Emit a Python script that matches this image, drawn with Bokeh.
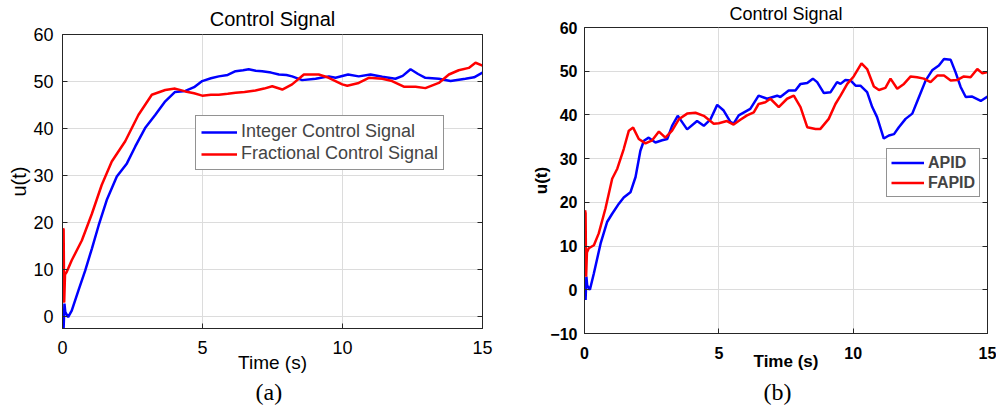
from bokeh.plotting import figure
from bokeh.models import Range1d, LinearAxis, Legend, LegendItem, FixedTicker, Title
from bokeh.layouts import row, column
from bokeh.embed import file_html
from bokeh.resources import INLINE

# ---------------- data: panel (a) ----------------
x_ticks = [0, 5, 10, 15]
a_y_ticks = [0, 10, 20, 30, 40, 50, 60]
b_y_ticks = [-10, 0, 10, 20, 30, 40, 50, 60]

a_int_t = [0.02, 0.04, 0.07, 0.1, 0.2, 0.33, 0.57, 0.81, 1.05, 1.29, 1.58, 1.94, 2.3, 2.6, 2.95,
           3.31, 3.67, 4.02, 4.39, 4.7, 4.99, 5.3, 5.58, 5.9, 6.18, 6.45, 6.65, 6.9, 7.13, 7.45,
           7.73, 8.0, 8.2, 8.56, 9.04, 9.51, 9.75, 10.2, 10.58, 11.0, 11.42, 11.89, 12.15, 12.43,
           12.7, 12.96, 13.44, 13.86, 14.39, 14.7, 15.0]
a_int_u = [0, -2.4, 2.8, 1.0, -0.1, 1.3, 5.6, 9.8, 14.5, 19.4, 24.8, 29.8, 32.6, 36.2, 40.1,
           42.9, 45.8, 47.8, 48.0, 48.8, 50.1, 50.7, 51.1, 51.4, 52.2, 52.4, 52.6, 52.3, 52.2, 51.9,
           51.5, 51.4, 51.1, 50.3, 50.6, 51.1, 50.8, 51.5, 51.1, 51.5, 51.0, 50.6, 51.2, 52.6,
           51.6, 50.8, 50.6, 50.1, 50.6, 50.9, 51.9]

a_frac_t = [0.02, 0.04, 0.06, 0.09, 0.15, 0.33, 0.69, 1.05, 1.40, 1.76, 2.24, 2.71, 3.19, 3.67,
            4.02, 4.39, 4.7, 4.99, 5.3, 5.58, 5.9, 6.18, 6.5, 6.89, 7.2, 7.49, 7.85, 8.2, 8.62,
            9.15, 9.51, 9.99, 10.17, 10.58, 10.94, 11.42, 11.77, 12.19, 12.61, 12.96, 13.44,
            13.8, 14.15, 14.51, 14.75, 15.0]
a_frac_u = [18.8, 18.5, 3.0, 9.0, 9.5, 12.0, 16.2, 21.9, 28.0, 33.0, 37.3, 42.9, 47.2, 48.2,
            48.5, 47.9, 47.5, 47.0, 47.2, 47.2, 47.4, 47.6, 47.8, 48.1, 48.5, 49.0, 48.3, 49.4, 51.5,
            51.5, 50.8, 49.4, 49.1, 49.7, 50.8, 50.6, 50.1, 48.9, 48.9, 48.6, 49.7,
            51.5, 52.4, 52.9, 54.0, 53.4]

# ---------------- data: panel (b) ----------------
b_apid_t = [0.02, 0.04, 0.07, 0.1, 0.2, 0.35, 0.6, 0.84, 1.03, 1.28, 1.46, 1.71, 1.9, 2.08, 2.21,
            2.39, 2.64, 2.89, 3.08, 3.26, 3.47, 3.64, 3.82, 4.19, 4.44, 4.69, 4.94, 5.18, 5.43,
            5.55, 5.74, 6.17, 6.48, 6.8, 7.17, 7.29, 7.6, 7.85, 8.04, 8.29, 8.5, 8.66, 8.91,
            9.16, 9.4, 9.53, 9.71, 9.9, 10.09, 10.27, 10.52, 10.71, 10.89, 11.14, 11.33, 11.52,
            11.7, 11.95, 12.2, 12.45, 12.7, 12.94, 13.19, 13.38, 13.63, 13.81, 14.0, 14.19,
            14.43, 14.75, 15.0]
b_apid_u = [0, -2.3, 3.0, 1.0, 0.0, 3.8, 10.6, 15.5, 17.4, 19.7, 21.1, 22.3, 25.8, 31.8, 34.1,
            34.8, 33.7, 34.2, 34.5, 37.5, 39.8, 38.3, 36.7, 38.6, 37.5, 39.0, 42.3, 41.0, 38.4,
            38.0, 39.9, 41.4, 44.4, 43.7, 44.4, 44.1, 45.6, 45.6, 47.1, 47.3, 48.3, 47.5, 45.0,
            45.2, 47.5, 47.1, 48.0, 47.9, 46.7, 46.7, 45.2, 41.8, 39.5, 34.6, 35.3, 35.6,
            37.2, 39.1, 40.3, 44.1, 47.9, 50.2, 51.3, 52.8, 52.6, 49.8, 46.4, 44.1,
            44.2, 43.2, 44.2]

b_fapid_t = [0.02, 0.04, 0.06, 0.09, 0.16, 0.35, 0.53, 0.78, 1.03, 1.22, 1.46, 1.65, 1.81, 2.02,
             2.27, 2.52, 2.77, 3.01, 3.26, 3.51, 3.82, 4.13, 4.44, 4.81, 5.0, 5.3, 5.55, 5.8,
             6.05, 6.3, 6.48, 6.73, 6.92, 7.23, 7.54, 7.79, 8.04, 8.29, 8.6, 8.78, 9.09, 9.34,
             9.53, 9.78, 10.02, 10.31, 10.52, 10.77, 10.96, 11.2, 11.39, 11.64, 11.89, 12.14,
             12.38, 12.63, 12.88, 13.13, 13.38, 13.63, 13.88, 14.12, 14.37, 14.62, 14.81, 15.0]
b_fapid_u = [18.2, 17.5, 3.0, 8.5, 9.5, 10.2, 12.9, 18.6, 25.4, 27.7, 32.2, 36.4, 37.1, 34.5,
             33.5, 34.2, 36.2, 34.8, 36.4, 39.0, 40.3, 40.5, 39.8, 38.0, 38.1, 38.6, 37.8, 38.9,
             39.9, 40.6, 42.5, 42.9, 43.7, 41.8, 43.7, 44.4, 41.8, 37.2, 36.8, 36.8, 39.1, 42.5,
             44.4, 47.1, 48.8, 51.8, 50.5, 46.5, 45.7, 46.2, 48.3, 46.0, 47.1, 48.8,
             48.6, 48.3, 47.5, 49.0, 49.0, 47.9, 48.0, 48.8, 48.6, 50.5, 49.5, 49.8]

BLUE = "#0000FF"
RED = "#FF0000"
AX = "#262626"
FONT = "Liberation Sans"
SERIF = "Liberation Serif"


def setup(p, yticks, fsize, fstyle, xstand, ystand, xlab_size, xlab_stand, ylab_size, ylab_stand):
    p.background_fill_color = "white"
    p.border_fill_color = "white"
    p.outline_line_color = AX
    p.outline_line_width = 1
    for ax in p.xaxis:
        ax.ticker = FixedTicker(ticks=x_ticks)
        ax.major_label_standoff = xstand
        ax.axis_label = "Time (s)"
        ax.axis_label_standoff = xlab_stand
        ax.axis_label_text_font_size = xlab_size
    for ax in p.yaxis:
        ax.ticker = FixedTicker(ticks=yticks)
        ax.major_label_standoff = ystand
        ax.axis_label = "u(t)"
        ax.axis_label_standoff = ylab_stand
        ax.axis_label_text_font_size = ylab_size
    for ax in list(p.xaxis) + list(p.yaxis):
        ax.axis_line_color = AX
        ax.major_tick_in = 5
        ax.major_tick_out = 0
        ax.major_tick_line_color = AX
        ax.minor_tick_line_color = None
        ax.major_label_text_font = FONT
        ax.major_label_text_font_size = fsize
        ax.major_label_text_font_style = fstyle
        ax.major_label_text_color = "#000000"
        ax.axis_label_text_font = FONT
        ax.axis_label_text_font_style = fstyle
        ax.axis_label_text_color = "#000000"
    p.xgrid.ticker = FixedTicker(ticks=x_ticks)
    p.ygrid.ticker = FixedTicker(ticks=yticks)
    p.grid.grid_line_color = "#DCDCDC"
    p.grid.grid_line_width = 1
    # box ticks on the right side (no labels)
    ra = LinearAxis(ticker=FixedTicker(ticks=yticks), major_label_text_font_size="0px",
                    major_label_text_color=None,
                    major_label_standoff=0, major_tick_in=5, major_tick_out=0,
                    minor_tick_line_color=None, axis_line_color=AX, major_tick_line_color=AX)
    p.add_layout(ra, "right")


# ---------------- panel (a) ----------------
p1 = figure(frame_width=420, frame_height=294, x_range=Range1d(0, 15), y_range=Range1d(-2.5, 60),
            output_backend="svg", toolbar_location=None,
            title=Title(text="Control Signal", align="center", vertical_align="top",
                        text_font=FONT, text_font_size="20px", text_font_style="normal",
                        standoff=6, text_color="#000000"),
            min_border_left=62, min_border_right=28, min_border_top=34, min_border_bottom=70)
setup(p1, a_y_ticks, "18px", "normal", 12, 9, "19px", -5, "20px", 0)
r1 = p1.line(a_int_t, a_int_u, line_color=BLUE, line_width=2.5)
r2 = p1.line(a_frac_t, a_frac_u, line_color=RED, line_width=2.5)
leg1 = Legend(items=[LegendItem(label="Integer Control Signal", renderers=[r1]),
                     LegendItem(label="Fractional Control Signal", renderers=[r2])],
              location=(133, 158), glyph_width=36, glyph_height=20, label_height=20,
              label_standoff=4, padding=5, spacing=1, margin=0,
              border_line_color=AX, border_line_width=1.5, background_fill_alpha=1,
              label_text_font=FONT, label_text_font_size="18px")
p1.add_layout(leg1)
p1.add_layout(Title(text="(a)", align="left", text_font=SERIF, text_font_size="24px",
                    text_font_style="normal", standoff=3, offset=193, text_color="#000000"), "below")

# ---------------- panel (b) ----------------
p2 = figure(frame_width=403, frame_height=306, x_range=Range1d(0, 15), y_range=Range1d(-10, 60),
            output_backend="svg", toolbar_location=None,
            title=Title(text="Control Signal", align="center", vertical_align="top",
                        text_font=FONT, text_font_size="18px", text_font_style="normal",
                        standoff=4, text_color="#000000"),
            min_border_left=74, min_border_right=9, min_border_top=27, min_border_bottom=70)
setup(p2, b_y_ticks, "16px", "bold", 13, 7, "17px", -10, "17px", -4)
r3 = p2.line(b_apid_t, b_apid_u, line_color=BLUE, line_width=2.5)
r4 = p2.line(b_fapid_t, b_fapid_u, line_color=RED, line_width=2.5)
leg2 = Legend(items=[LegendItem(label="APID", renderers=[r3]),
                     LegendItem(label="FAPID", renderers=[r4])],
              location=(302, 136), glyph_width=33, glyph_height=19, label_height=19,
              label_standoff=4, padding=4, spacing=1, margin=0,
              border_line_color=AX, border_line_width=1.5, background_fill_alpha=1,
              label_text_font=FONT, label_text_font_size="16px", label_text_font_style="bold")
p2.add_layout(leg2)
p2.add_layout(Title(text="(b)", align="left", text_font=SERIF, text_font_size="24px",
                    text_font_style="normal", standoff=7, offset=179, text_color="#000000"), "below")

layout = row(column(p1), column(p2))
open("out.html", "w").write(file_html(layout, INLINE))
